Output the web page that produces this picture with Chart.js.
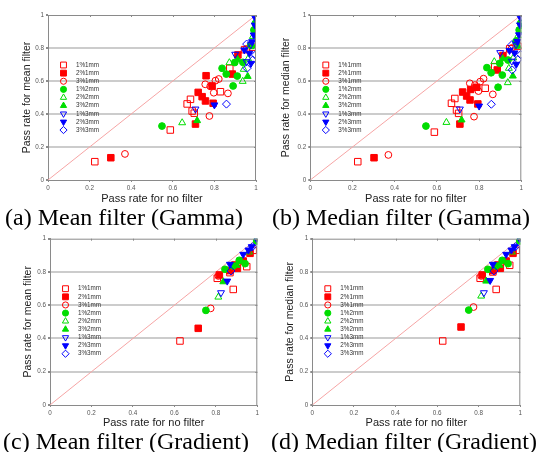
<!DOCTYPE html>
<html><head><meta charset="utf-8">
<script src="https://cdn.jsdelivr.net/npm/chart.js@4"></script>
<style>
html,body{margin:0;padding:0;background:#fff;}
body{width:537px;height:452px;position:relative;overflow:hidden;}
canvas{position:absolute;}
.cap{position:absolute;font-family:"Liberation Serif","Times New Roman",serif;font-size:24px;line-height:24px;white-space:nowrap;color:#000;}
</style></head><body>
<canvas id="ca" width="268" height="206" style="left:0;top:0"></canvas>
<canvas id="cb" width="269" height="206" style="left:268px;top:0"></canvas>
<canvas id="cc" width="268" height="206" style="left:0;top:226px"></canvas>
<canvas id="cd" width="269" height="206" style="left:268px;top:226px"></canvas>
<div class="cap" style="left:5px;top:205px">(a) Mean filter (Gamma)</div>
<div class="cap" style="left:272px;top:205px">(b) Median filter (Gamma)</div>
<div class="cap" style="left:3px;top:429px">(c) Mean filter (Gradient)</div>
<div class="cap" style="left:271px;top:429px">(d) Median filter (Gradient)</div>
<script>
// ---------------- DATA ----------------
const seriesLabels = ['1%1mm','2%1mm','3%1mm','1%2mm','2%2mm','3%2mm','1%3mm','2%3mm','3%3mm'];
const tickLabels = ['0','0.2','0.4','0.6','0.8','1'];
const xAxisTitle = 'Pass rate for no filter';
const yTitleMean = 'Pass rate for mean filter';
const yTitleMedian = 'Pass rate for median filter';

// Gamma: pass rate for no filter (x), one sub-array per series
const gammaNoFilter = [
  [0.225, 0.588, 0.669, 0.685, 0.693, 0.703, 0.829, 0.874, 0.945, 0.985],
  [0.302, 0.709, 0.722, 0.741, 0.757, 0.760, 0.789, 0.794, 0.886, 0.913],
  [0.370, 0.776, 0.865, 0.756, 0.797, 0.821, 0.805, 0.780, 0.955],
  [0.548, 0.837, 0.857, 0.890, 0.910, 0.898, 0.937, 0.975, 0.990, 0.997],
  [0.645, 0.936, 0.872, 0.941, 0.962, 0.985],
  [0.717, 0.960, 0.912, 0.985, 0.997],
  [0.709, 0.900, 0.955, 0.975],
  [0.800, 0.944, 0.968, 0.976, 0.981, 0.989, 0.994, 0.997],
  [0.858, 0.957, 0.984, 0.955, 0.997]
];
const gammaMean = [
  [0.111, 0.303, 0.461, 0.489, 0.418, 0.405, 0.535, 0.677, 0.790, 0.805],
  [0.135, 0.339, 0.531, 0.505, 0.479, 0.632, 0.570, 0.465, 0.642, 0.758],
  [0.158, 0.388, 0.525, 0.580, 0.529, 0.612, 0.602, 0.568, 0.795],
  [0.327, 0.677, 0.642, 0.570, 0.630, 0.712, 0.713, 0.818, 0.909, 0.949],
  [0.347, 0.598, 0.711, 0.671, 0.735, 0.870],
  [0.360, 0.628, 0.731, 0.808, 0.930],
  [0.430, 0.762, 0.717, 0.820],
  [0.455, 0.788, 0.768, 0.707, 0.838, 0.879, 0.939, 0.980],
  [0.460, 0.677, 0.727, 0.824, 0.758]
];
const gammaMedian = [
  [0.111, 0.290, 0.465, 0.494, 0.424, 0.404, 0.556, 0.687, 0.795, 0.810],
  [0.135, 0.339, 0.533, 0.509, 0.485, 0.549, 0.562, 0.461, 0.667, 0.754],
  [0.152, 0.384, 0.519, 0.586, 0.539, 0.614, 0.596, 0.575, 0.800],
  [0.327, 0.681, 0.650, 0.562, 0.636, 0.707, 0.727, 0.840, 0.909, 0.950],
  [0.349, 0.590, 0.717, 0.677, 0.740, 0.875],
  [0.364, 0.630, 0.735, 0.810, 0.930],
  [0.430, 0.772, 0.720, 0.820],
  [0.448, 0.785, 0.770, 0.701, 0.840, 0.880, 0.940, 0.980],
  [0.459, 0.667, 0.730, 0.820, 0.760]
];

// Gradient: pass rate for no filter (x)
const gradNoFilter = [
  [0.627, 0.884, 0.949, 0.807, 0.868, 0.980],
  [0.715, 0.817, 0.868, 0.904, 0.892, 0.965, 0.932],
  [0.775, 0.812],
  [0.752, 0.844, 0.913, 0.941, 0.884, 0.997],
  [0.812, 0.960],
  [0.836, 0.900],
  [0.825],
  [0.855, 0.868, 0.932, 0.957, 0.973, 0.997],
  [0.873, 0.977]
];
const gradMean = [
  [0.385, 0.695, 0.832, 0.762, 0.796, 0.930],
  [0.461, 0.782, 0.808, 0.822, 0.842, 0.912, 0.866],
  [0.581, 0.776],
  [0.569, 0.816, 0.870, 0.850, 0.836, 0.986],
  [0.649, 0.920],
  [0.741, 0.840],
  [0.675],
  [0.745, 0.846, 0.906, 0.932, 0.952, 1.000],
  [0.806, 0.952]
];
const gradMedian = [
  [0.385, 0.695, 0.840, 0.762, 0.800, 0.930],
  [0.469, 0.782, 0.808, 0.822, 0.842, 0.912, 0.866],
  [0.589, 0.776],
  [0.571, 0.816, 0.870, 0.850, 0.836, 0.986],
  [0.655, 0.920],
  [0.745, 0.840],
  [0.675],
  [0.749, 0.846, 0.906, 0.932, 0.952, 1.000],
  [0.806, 0.952]
];

// ---------------- STYLES ----------------
const RED = '#ff0000', GREEN = '#00dd00', BLUE = '#0000ff';
const seriesStyles = [
  {shape:'rect', fill:false, color:RED, r:4.6, rot:0},
  {shape:'rect', fill:true,  color:RED, r:4.6, rot:0},
  {shape:'circle', fill:false, color:RED, r:3.4, rot:0},
  {shape:'circle', fill:true,  color:GREEN, r:3.4, rot:0},
  {shape:'triangle', fill:false, color:GREEN, r:4, rot:0},
  {shape:'triangle', fill:true,  color:GREEN, r:4, rot:0},
  {shape:'triangle', fill:false, color:BLUE, r:4, rot:180},
  {shape:'triangle', fill:true,  color:BLUE, r:4, rot:180},
  {shape:'rectRot', fill:false, color:BLUE, r:4, rot:0}
];

function buildDatasets(xs, ys) {
  const ds = seriesLabels.map((lab, i) => {
    const st = seriesStyles[i];
    return {
      label: lab,
      data: xs[i].map((x, j) => ({x: x, y: ys[i][j]})),
      pointStyle: st.shape,
      pointRotation: st.rot,
      rotation: st.rot,
      pointRadius: st.r,
      pointHoverRadius: st.r,
      pointBorderWidth: 1,
      borderWidth: 1,
      borderColor: st.color,
      pointBorderColor: st.color,
      backgroundColor: st.fill ? st.color : 'rgba(0,0,0,0)',
      pointBackgroundColor: st.fill ? st.color : 'rgba(0,0,0,0)',
      showLine: false,
      order: 9 - i
    };
  });
  ds.push({
    label: 'y=x', data: [{x:0, y:0}, {x:1, y:1}], showLine: true,
    pointRadius: 0, borderColor: '#f6a5a5', borderWidth: 1, order: 20, isDiag: true
  });
  return ds;
}

const inLegend = {
  id: 'inLegend',
  afterDatasetsDraw(chart) {
    const {ctx, chartArea: a} = chart;
    ctx.save();
    chart.data.datasets.forEach((d, i) => {
      if (d.isDiag) return;
      const y = a.top + 50 + i * 8.13;
      const x = a.left + 15.5;
      ctx.fillStyle = d.backgroundColor;
      ctx.strokeStyle = d.borderColor;
      ctx.lineWidth = 1;
      Chart.helpers.drawPoint(ctx, {pointStyle: d.pointStyle, rotation: d.pointRotation || 0,
        radius: d.pointRadius * 0.9, borderWidth: 1}, x, y);
      ctx.fillStyle = '#333';
      ctx.font = '6.3px "Liberation Sans", Arial, sans-serif';
      ctx.textBaseline = 'middle';
      ctx.textAlign = 'left';
      ctx.fillText(d.label, a.left + 28, y);
    });
    ctx.restore();
  }
};

const frame = {
  id: 'frame',
  afterDraw(chart) {
    const {ctx, chartArea: a, scales} = chart;
    ctx.save();
    ctx.strokeStyle = '#8a8a8a';
    ctx.lineWidth = 1;
    ctx.beginPath();
    ctx.moveTo(a.left, a.top + 0.5); ctx.lineTo(a.right, a.top + 0.5);
    ctx.moveTo(a.right - 0.5, a.top); ctx.lineTo(a.right - 0.5, a.bottom);
    scales.x.ticks.forEach(t => {
      const px = Math.round(scales.x.getPixelForValue(t.value)) + 0.5;
      ctx.moveTo(px, a.top); ctx.lineTo(px, a.top + 2);
    });
    scales.y.ticks.forEach(t => {
      const py = Math.round(scales.y.getPixelForValue(t.value)) + 0.5;
      ctx.moveTo(a.right, py); ctx.lineTo(a.right - 2, py);
    });
    ctx.stroke();
    ctx.restore();
  }
};

function makeChart(id, xs, ys, yTitle, L) {
  const tickFont = {family: '"Liberation Sans", Arial, sans-serif', size: 6.3};
  return new Chart(document.getElementById(id), {
    type: 'scatter',
    data: {datasets: buildDatasets(xs, ys)},
    options: {
      responsive: false, animation: false,
      layout: {padding: {top: L.top, right: L.right, left: 0, bottom: 0}},
      plugins: {legend: {display: false}, tooltip: {enabled: false}},
      scales: {
        x: {
          type: 'linear', min: 0, max: 1,
          afterFit: s => { s.height = L.xh; },
          ticks: {stepSize: 0.2, font: tickFont, color: '#555', padding: 2, maxRotation: 0,
                  callback: (v, i) => tickLabels[i]},
          grid: {drawOnChartArea: false, drawTicks: true, tickLength: 2, tickColor: '#8a8a8a'},
          border: {display: true, color: '#8a8a8a', width: 1},
          title: {display: true, text: xAxisTitle, color: '#222',
                  font: {family: '"Liberation Sans", Arial, sans-serif', size: 11},
                  padding: {top: 0, bottom: L.xtp}}
        },
        y: {
          type: 'linear', min: 0, max: 1,
          afterFit: s => { s.width = L.yw; },
          ticks: {stepSize: 0.2, font: tickFont, color: '#555', padding: 2,
                  callback: (v, i) => tickLabels[i]},
          grid: {
            color: c => (c.tick && c.tick.value > 0.01 && c.tick.value < 0.99) ? '#cccccc' : 'rgba(0,0,0,0)',
            lineWidth: 2, drawTicks: true, tickLength: 2, tickColor: '#8a8a8a'
          },
          border: {display: true, color: '#8a8a8a', width: 1},
          title: {display: true, text: yTitle, color: '#222',
                  font: {family: '"Liberation Sans", Arial, sans-serif', size: 10.5},
                  padding: {top: L.ytp, bottom: 0}}
        }
      }
    },
    plugins: [frame, inLegend]
  });
}

makeChart('ca', gammaNoFilter, gammaMean, yTitleMean, {top: 15, right: 12, yw: 48, xh: 26, ytp: 20.5, xtp: 0.5});
makeChart('cb', gammaNoFilter, gammaMedian, yTitleMedian, {top: 15, right: 15.7, yw: 42.3, xh: 26, ytp: 11.5, xtp: 0.5});
makeChart('cc', gradNoFilter, gradMean, yTitleMean, {top: 12.7, right: 10.7, yw: 50, xh: 27, ytp: 21.5, xtp: 2.4});
makeChart('cd', gradNoFilter, gradMedian, yTitleMedian, {top: 12.7, right: 16.7, yw: 44.3, xh: 27, ytp: 16.2, xtp: 2.4});
</script>
</body></html>
